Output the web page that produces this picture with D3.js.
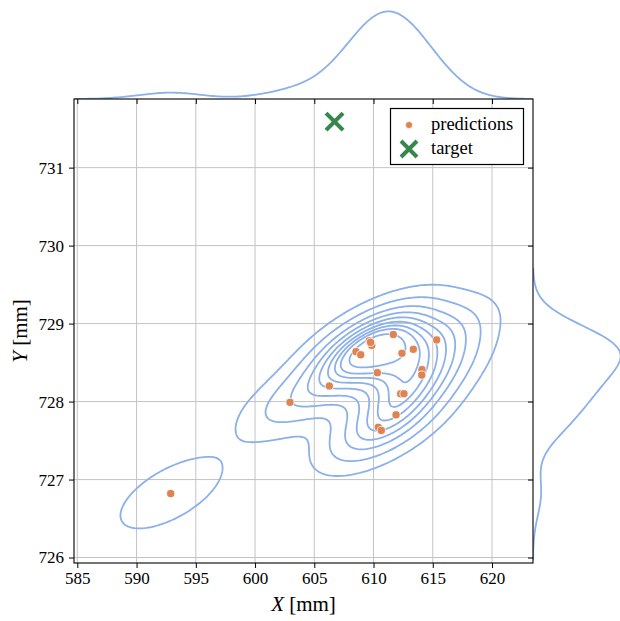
<!DOCTYPE html>
<html>
<head>
<meta charset="utf-8">
<script src="https://cdn.jsdelivr.net/npm/d3@7"></script>
<style>
  html, body { margin: 0; padding: 0; background: #fff; }
  svg { display: block; }
  text { font-family: "Liberation Serif", "Times New Roman", serif; fill: #000; }
</style>
</head>
<body>
<script>
// Predicted positions (mm); a few sit almost on top of each other
const predX = [611.67, 609.64, 609.85, 609.75, 608.52, 608.92, 612.40, 613.36, 615.33, 610.32, 614.09,
               614.07, 606.27, 602.95, 612.29, 612.57, 611.90, 610.40, 610.66, 592.88];
const predY = [728.86, 728.78, 728.72, 728.76, 728.64, 728.60, 728.62, 728.67, 728.79, 728.37, 728.41,
               728.34, 728.20, 727.99, 728.10, 728.10, 727.83, 727.67, 727.63, 726.82];
// Target position (mm)
const targetX = [606.71];
const targetY = [731.59];

const xTicks = [585, 590, 595, 600, 605, 610, 615, 620];
const yTicks = [726, 727, 728, 729, 730, 731];
const xDomain = [584.72, 623.46];
const yDomain = [725.93, 731.88];

const legendLabels = ["predictions", "target"];

const W = 620, H = 621;
const M = { left: 74, right: 533, top: 99, bottom: 563 };
const margSize = 92;

const blue = "rgb(140,176,234)";
const orange = "#dd8452";
const green = "#37874c";

const svg = d3.select("body").append("svg").attr("width", W).attr("height", H);

const x = d3.scaleLinear().domain(xDomain).range([M.left, M.right]);
const y = d3.scaleLinear().domain(yDomain).range([M.bottom, M.top]);

// ---------- kernel density estimates (Gaussian, Scott's rule) ----------
function kde1d(vals, n = 200, cut = 3) {
  const N = vals.length;
  const sd = d3.deviation(vals);
  const bw = sd * Math.pow(N, -1 / 5);
  const lo = d3.min(vals) - cut * bw, hi = d3.max(vals) + cut * bw;
  const norm = 1 / (N * bw * Math.sqrt(2 * Math.PI));
  const out = [];
  for (let i = 0; i < n; i++) {
    const g = lo + (hi - lo) * i / (n - 1);
    let s = 0;
    for (const v of vals) { const z = (g - v) / bw; s += Math.exp(-0.5 * z * z); }
    out.push([g, s * norm]);
  }
  return out;
}

function kde2d(xs, ys, n = 200, cut = 3) {
  const N = xs.length;
  const mx = d3.mean(xs), my = d3.mean(ys);
  let sxx = 0, syy = 0, sxy = 0;
  for (let k = 0; k < N; k++) {
    sxx += (xs[k] - mx) ** 2; syy += (ys[k] - my) ** 2; sxy += (xs[k] - mx) * (ys[k] - my);
  }
  const f2 = Math.pow(N, -2 / 6);
  const cxx = sxx / (N - 1) * f2, cyy = syy / (N - 1) * f2, cxy = sxy / (N - 1) * f2;
  const det = cxx * cyy - cxy * cxy;
  const ixx = cyy / det, iyy = cxx / det, ixy = -cxy / det;
  const norm = 1 / (2 * Math.PI * Math.sqrt(det) * N);
  const bx = Math.sqrt(cxx), by = Math.sqrt(cyy);
  const x0 = d3.min(xs) - cut * bx, x1 = d3.max(xs) + cut * bx;
  const y0 = d3.min(ys) - cut * by, y1 = d3.max(ys) + cut * by;
  const sx = (x1 - x0) / (n - 1), sy = (y1 - y0) / (n - 1);
  const values = new Float64Array(n * n);
  for (let j = 0; j < n; j++) {
    const gy = y0 + j * sy;
    for (let i = 0; i < n; i++) {
      const gx = x0 + i * sx;
      let s = 0;
      for (let k = 0; k < N; k++) {
        const dx = gx - xs[k], dy = gy - ys[k];
        s += Math.exp(-0.5 * (dx * dx * ixx + 2 * dx * dy * ixy + dy * dy * iyy));
      }
      values[j * n + i] = s * norm;
    }
  }
  return { values, n, x0, y0, sx, sy };
}

// iso-proportion levels: density above each level holds (1 - q) of the mass
function isoLevels(values, count = 10, thresh = 0.05) {
  const sorted = Array.from(values).sort((a, b) => b - a);
  const total = d3.sum(sorted);
  const cum = [];
  let acc = 0;
  for (const v of sorted) { acc += v; cum.push(acc / total); }
  const levels = [];
  for (let i = 0; i < count; i++) {
    const q = thresh + (1 - thresh) * i / (count - 1);
    const idx = Math.min(d3.bisectLeft(cum, 1 - q), sorted.length - 1);
    levels.push(sorted[idx]);
  }
  return levels.filter(l => l < sorted[0]).sort((a, b) => a - b);
}

// ---------- grid ----------
const gGrid = svg.append("g").attr("stroke", "#c4c4c4").attr("stroke-width", 1);
gGrid.selectAll("line.gx").data(xTicks).join("line")
  .attr("x1", d => x(d)).attr("x2", d => x(d)).attr("y1", M.top).attr("y2", M.bottom);
gGrid.selectAll("line.gy").data(yTicks).join("line")
  .attr("x1", M.left).attr("x2", M.right).attr("y1", d => y(d)).attr("y2", d => y(d));

// ---------- bivariate density contours ----------
svg.append("clipPath").attr("id", "plotclip").append("rect")
  .attr("x", M.left).attr("y", M.top).attr("width", M.right - M.left).attr("height", M.bottom - M.top);

const dens = kde2d(predX, predY);
const levels = isoLevels(dens.values);
const contours = d3.contours().size([dens.n, dens.n]).thresholds(levels)(dens.values);
const toPlot = d3.geoTransform({
  point: function (cx, cy) {
    this.stream.point(x(dens.x0 + (cx - 0.5) * dens.sx), y(dens.y0 + (cy - 0.5) * dens.sy));
  }
});
svg.append("g").attr("clip-path", "url(#plotclip)")
  .selectAll("path").data(contours).join("path")
  .attr("d", d3.geoPath(toPlot))
  .attr("fill", "none").attr("stroke", blue).attr("stroke-width", 1.8)
  .attr("stroke-linejoin", "round");

// ---------- scatter ----------
svg.append("g").selectAll("circle").data(d3.range(predX.length)).join("circle")
  .attr("cx", i => x(predX[i])).attr("cy", i => y(predY[i])).attr("r", 4.1)
  .attr("fill", orange).attr("stroke", "#fff").attr("stroke-width", 0.8);

function xMarker(g, cx, cy, h, w) {
  g.append("path")
    .attr("d", `M${cx - h},${cy - h}L${cx + h},${cy + h}M${cx - h},${cy + h}L${cx + h},${cy - h}`)
    .attr("stroke", green).attr("stroke-width", w).attr("fill", "none");
}
targetX.forEach((tx, i) => xMarker(svg, x(tx), y(targetY[i]), 8.5, 4.2));

// ---------- marginal densities ----------
const mx = kde1d(predX);
const my = kde1d(predY);
const topY = d3.scaleLinear().domain([0, d3.max(mx, d => d[1]) * 1.05]).range([M.top, M.top - margSize]);
const rightX = d3.scaleLinear().domain([0, d3.max(my, d => d[1]) * 1.05]).range([M.right, M.right + margSize]);

svg.append("clipPath").attr("id", "topclip").append("rect")
  .attr("x", M.left).attr("y", 0).attr("width", M.right - M.left).attr("height", M.top);
svg.append("clipPath").attr("id", "rightclip").append("rect")
  .attr("x", M.right).attr("y", M.top).attr("width", W - M.right).attr("height", M.bottom - M.top);

svg.append("path").attr("clip-path", "url(#topclip)")
  .attr("d", d3.line().x(d => x(d[0])).y(d => topY(d[1]))(mx))
  .attr("fill", "none").attr("stroke", blue).attr("stroke-width", 1.8);
svg.append("path").attr("clip-path", "url(#rightclip)")
  .attr("d", d3.line().x(d => rightX(d[1])).y(d => y(d[0]))(my))
  .attr("fill", "none").attr("stroke", blue).attr("stroke-width", 1.8);

// ---------- axes ----------
const tickFont = "17px";
const gx = svg.append("g").attr("transform", `translate(0,${M.bottom})`)
  .call(d3.axisBottom(x).tickValues(xTicks).tickSize(5).tickPadding(4).tickFormat(d3.format("d")));
const gy = svg.append("g").attr("transform", `translate(${M.left},0)`)
  .call(d3.axisLeft(y).tickValues(yTicks).tickSize(5).tickPadding(5).tickFormat(d3.format("d")));
// inward ticks from the marginal axes
const gxt = svg.append("g").attr("transform", `translate(0,${M.top})`)
  .call(d3.axisBottom(x).tickValues(xTicks).tickSize(5).tickFormat(""));
const gyr = svg.append("g").attr("transform", `translate(${M.right},0)`)
  .call(d3.axisLeft(y).tickValues(yTicks).tickSize(5).tickFormat(""));

[gx, gy, gxt, gyr].forEach(g => {
  g.select(".domain").remove();
  g.selectAll(".tick line").attr("stroke", "#000").attr("stroke-width", 1);
  g.selectAll(".tick text").attr("font-family", "Liberation Serif").attr("font-size", tickFont).attr("fill", "#000");
});

// spines
svg.append("rect")
  .attr("x", M.left).attr("y", M.top).attr("width", M.right - M.left).attr("height", M.bottom - M.top)
  .attr("fill", "none").attr("stroke", "#000").attr("stroke-width", 1.1);

// axis labels
const xl = svg.append("text").attr("x", (M.left + M.right) / 2).attr("y", 611)
  .attr("text-anchor", "middle").attr("font-size", "21px");
xl.append("tspan").attr("font-style", "italic").text("X");
xl.append("tspan").text(" [mm]");

const yl = svg.append("text")
  .attr("transform", `translate(27,${(M.top + M.bottom) / 2}) rotate(-90)`)
  .attr("text-anchor", "middle").attr("font-size", "21px");
yl.append("tspan").attr("font-style", "italic").text("Y");
yl.append("tspan").text(" [mm]");

// ---------- legend ----------
const lg = svg.append("g");
lg.append("rect").attr("x", 390.5).attr("y", 108.5).attr("width", 133).attr("height", 56)
  .attr("fill", "#fff").attr("stroke", "#000").attr("stroke-width", 1.2);
lg.append("circle").attr("cx", 409).attr("cy", 125).attr("r", 3.5)
  .attr("fill", orange).attr("stroke", "#fff").attr("stroke-width", 0.6);
xMarker(lg, 409, 149, 8, 4);
lg.selectAll("text").data(legendLabels).join("text")
  .attr("x", 431).attr("y", (d, i) => 129.5 + i * 24.5)
  .attr("font-size", "18.5px").text(d => d);
</script>
</body>
</html>
